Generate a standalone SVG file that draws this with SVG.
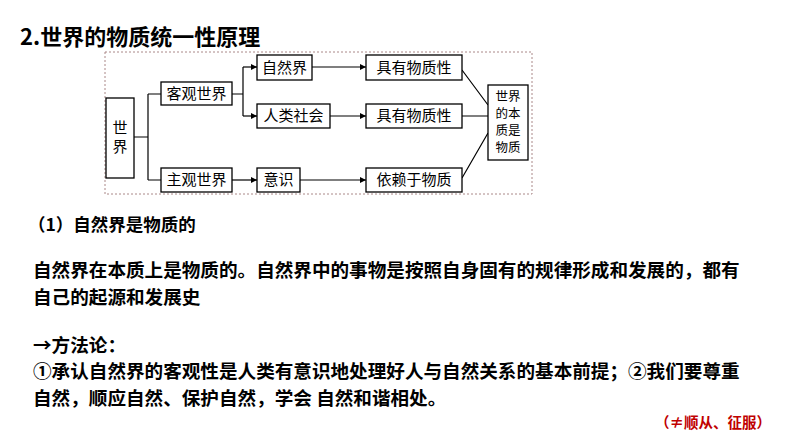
<svg xmlns="http://www.w3.org/2000/svg" width="794" height="447" viewBox="0 0 794 447">
<defs>
<style>
.b{fill:#fff;stroke:#000;stroke-width:1.3}
.l{fill:none;stroke:#000;stroke-width:1.2}
.t{font-family:"Noto Sans CJK SC",sans-serif;font-size:15px;fill:#000}
.e{font-family:"Noto Sans CJK SC",sans-serif;font-size:12.5px;fill:#000}
.h{font-family:"Noto Sans CJK SC",sans-serif;font-weight:bold;fill:#000}
</style>
<marker id="a" viewBox="0 0 10 10" refX="10" refY="5" markerWidth="8" markerHeight="6" orient="auto" markerUnits="userSpaceOnUse"><path d="M0,0L10,5L0,10z"/></marker>
</defs>
<rect width="794" height="447" fill="#fff"/>
<text class="h" x="20" y="45" font-size="22">2.世界的物质统一性原理</text>
<rect x="105" y="52" width="427" height="142" fill="none" stroke="#a88" stroke-width="1" stroke-dasharray="2,2"/>
<g id="connectors">
<path class="l" d="M134,137H148M148,94V180M148,94H161M148,180H161"/>
<path class="l" d="M232,94H243M243,67V116"/>
<path class="l" d="M243,67H257" marker-end="url(#a)"/>
<path class="l" d="M243,116H257" marker-end="url(#a)"/>
<path class="l" d="M232,180H257" marker-end="url(#a)"/>
<path class="l" d="M312,67H366" marker-end="url(#a)"/>
<path class="l" d="M330,116H366" marker-end="url(#a)"/>
<path class="l" d="M300,180H366" marker-end="url(#a)"/>
<path class="l" d="M462,70L488,105M462,116H488M462,178L488,133"/>
</g>
<g id="n_world"><rect class="b" x="106" y="98" width="28" height="80"/><text class="t" x="120" y="133" text-anchor="middle">世</text><text class="t" x="120" y="152" text-anchor="middle">界</text></g>
<g id="n_obj"><rect class="b" x="161" y="82" width="71" height="23"/><text class="t" x="196.5" y="99" text-anchor="middle">客观世界</text></g>
<g id="n_subj"><rect class="b" x="161" y="168" width="71" height="24"/><text class="t" x="196.5" y="185" text-anchor="middle">主观世界</text></g>
<g id="n_nature"><rect class="b" x="257" y="55" width="55" height="25"/><text class="t" x="284.5" y="73" text-anchor="middle">自然界</text></g>
<g id="n_society"><rect class="b" x="257" y="104" width="73" height="24"/><text class="t" x="293.5" y="121" text-anchor="middle">人类社会</text></g>
<g id="n_cons"><rect class="b" x="257" y="168" width="43" height="24"/><text class="t" x="278.5" y="185" text-anchor="middle">意识</text></g>
<g id="n_m1"><rect class="b" x="366" y="55" width="96" height="25"/><text class="t" x="414" y="73" text-anchor="middle">具有物质性</text></g>
<g id="n_m2"><rect class="b" x="366" y="104" width="96" height="24"/><text class="t" x="414" y="121" text-anchor="middle">具有物质性</text></g>
<g id="n_dep"><rect class="b" x="366" y="168" width="96" height="24"/><text class="t" x="414" y="185" text-anchor="middle">依赖于物质</text></g>
<g id="n_essence"><rect class="b" x="488" y="85" width="40" height="75"/><text class="e" x="508" y="101" text-anchor="middle">世界</text><text class="e" x="508" y="118" text-anchor="middle">的本</text><text class="e" x="508" y="135" text-anchor="middle">质是</text><text class="e" x="508" y="152" text-anchor="middle">物质</text></g>
<text class="h" x="28" y="231" font-size="17.5">（1）自然界是物质的</text>
<text class="h" x="33" y="277" font-size="18.6">自然界在本质上是物质的。自然界中的事物是按照自身固有的规律形成和发展的，都有</text>
<text class="h" x="33" y="304" font-size="18.6">自己的起源和发展史</text>
<text class="h" x="33" y="352" font-size="18.6">→方法论：</text>
<text class="h" x="33" y="378" font-size="18.6">①承认自然界的客观性是人类有意识地处理好人与自然关系的基本前提；②我们要尊重</text>
<text class="h" x="33" y="405" font-size="18.6">自然，顺应自然、保护自然，学会 自然和谐相处。</text>
<text class="h" x="655" y="428" font-size="14.5" style="fill:#c00000">（≠顺从、征服）</text>
</svg>
